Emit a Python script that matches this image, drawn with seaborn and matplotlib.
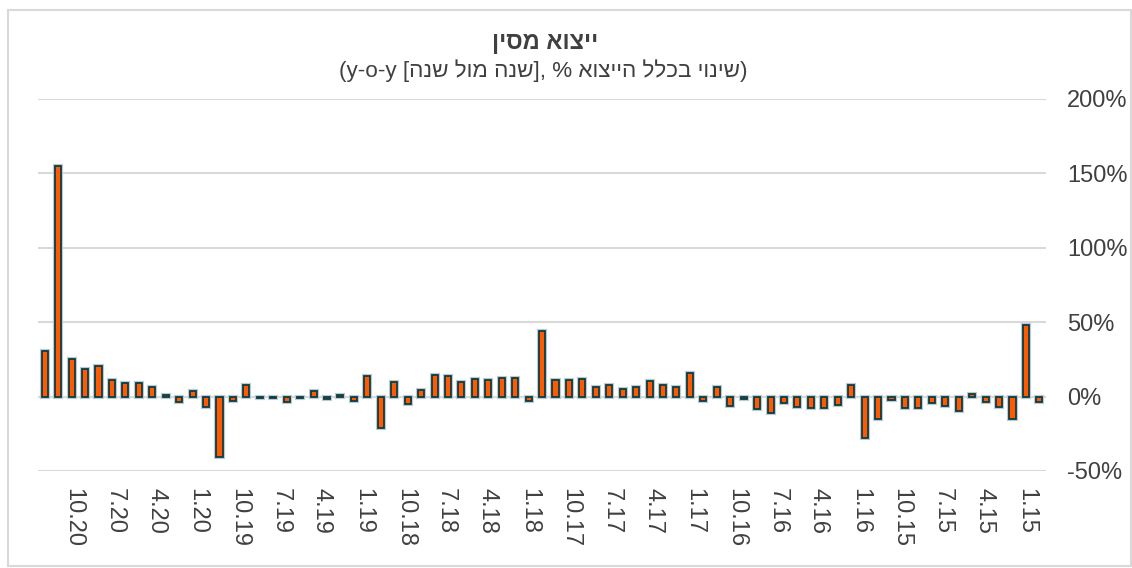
import numpy as np
import pandas as pd
import seaborn as sns
import matplotlib.pyplot as plt
from matplotlib.patches import Rectangle

# month labels, newest first (12.20 back to 10.14), as on the chart
dates = pd.date_range("2014-10-01", "2020-12-01", freq="MS")[::-1]
months = [f"{d.month}.{d.year % 100:02d}" for d in dates]

# y-o-y % change of exports from China
changes = [
    30.7, 155.0, 25.0, 18.4, 20.8, 11.2, 9.4, 9.4, 6.7, 0.7,
    -3.8, 3.4, -6.9, -40.5, -3.1, 7.8, -1.3, -0.9, -3.6, -1.3,
    4.0, -1.8, 1.3, -3.1, 14.1, -21.0, 9.6, -4.9, 4.2, 14.5,
    14.1, 9.8, 12.0, 10.9, 12.3, 12.7, -3.1, 43.8, 10.9, 11.2,
    11.6, 6.3, 8.0, 5.1, 6.7, 10.7, 7.8, 6.7, 15.8, -2.9,
    6.7, -6.5, -1.8, -8.3, -10.9, -4.2, -6.9, -7.4, -7.4, -5.8,
    7.6, -28.1, -15.4, -2.0, -7.4, -7.4, -4.2, -6.3, -9.6, 1.6,
    -3.6, -6.9, -15.4, 48.2, -3.6,
]

tick_labels = [
    "10.20", "7.20", "4.20", "1.20", "10.19", "7.19", "4.19", "1.19",
    "10.18", "7.18", "4.18", "1.18", "10.17", "7.17", "4.17", "1.17",
    "10.16", "7.16", "4.16", "1.16", "10.15", "7.15", "4.15", "1.15",
]
y_ticks = [-50, 0, 50, 100, 150, 200]
y_tick_labels = ["-50%", "0%", "50%", "100%", "150%", "200%"]

# matplotlib has no bidi, so hebrew runs are given in visual order
title = "ייצוא מסין"[::-1]
subtitle = "(y-o-y [" + "שנה מול שנה"[::-1] + "], % " + "שינוי בכלל הייצוא"[::-1] + ")"

sns.set_theme(style="white")
plt.rcParams["font.family"] = ["Liberation Sans", "DejaVu Sans"]

df = pd.DataFrame({"month": months, "change": changes})

fig = plt.figure(figsize=(11.32, 5.68), dpi=100)
ax = fig.add_axes([0.0336, 0.1708, 0.8905, 0.6554])

# soft halo behind the bars, then the bars themselves
sns.barplot(data=df, x="month", y="change", color="#FF5A00", saturation=1,
            width=0.45, edgecolor="#B8CCD2", linewidth=3.0, ax=ax)
sns.barplot(data=df, x="month", y="change", color="#FF5A00", saturation=1,
            width=0.45, edgecolor="#0E3A43", linewidth=1.3, ax=ax)

ax.set_xlim(-0.5, len(months) - 0.5)
ax.set_ylim(-50, 200)
ax.set_yticks(y_ticks, y_tick_labels)
ax.yaxis.tick_right()
ax.set_xticks(np.linspace(2.14, 73.0, len(tick_labels)), tick_labels, rotation=270)
ax.tick_params(axis="y", length=0, pad=15, labelsize=17, labelcolor="#404040")
ax.tick_params(axis="x", length=0, pad=12, labelsize=17, labelcolor="#404040")
ax.grid(axis="y", color="#D9D9D9", linewidth=1.5)
ax.set_axisbelow(True)
ax.set_xlabel("")
ax.set_ylabel("")
for s in ax.spines.values():
    s.set_visible(False)

fig.text(0.482, 1 - 42 / 568, title, ha="center", va="center",
         fontsize=17, fontweight="bold", color="#404040")
fig.text(0.48, 1 - 71 / 568, subtitle, ha="center", va="center",
         fontsize=16.2, color="#404040")

fig.add_artist(Rectangle((8 / 1132, 2 / 568), 1123 / 1132, 556 / 568,
                         transform=fig.transFigure, fill=False,
                         edgecolor="#D9D9D9", linewidth=1.5))

fig.savefig("out.png", dpi=100)
